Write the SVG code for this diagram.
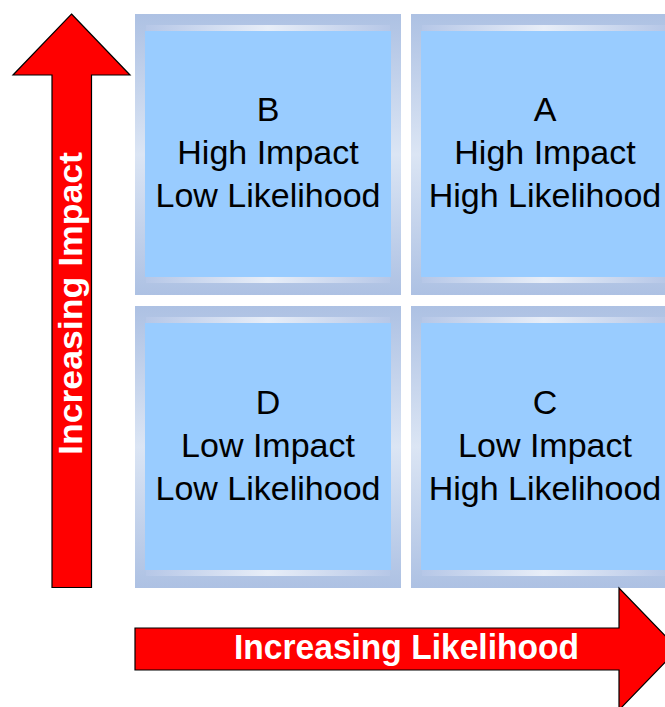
<svg xmlns="http://www.w3.org/2000/svg" width="665" height="707" viewBox="0 0 665 707">
<defs>
<linearGradient id="frameV" x1="0" y1="0" x2="0" y2="1">
<stop offset="0" stop-color="#adc1e3"/>
<stop offset="0.5" stop-color="#dbe5f4"/>
<stop offset="1" stop-color="#adc1e3"/>
</linearGradient>
<linearGradient id="bandH" x1="0" y1="0" x2="1" y2="0">
<stop offset="0" stop-color="#b6c7e7"/>
<stop offset="0.5" stop-color="#e8eef8"/>
<stop offset="1" stop-color="#b6c7e7"/>
</linearGradient>
</defs>
<style>
.outer{fill:url(#frameV)}
.band{fill:url(#bandH)}
.inner{fill:#99ccff}
.lbl{font-family:"Liberation Sans",Arial,sans-serif;font-size:34px;fill:#000;text-anchor:middle}
.arrow{fill:#ff0000;stroke:#000;stroke-width:1.2}
.atxt{font-family:"Liberation Sans",Arial,sans-serif;font-weight:bold;fill:#fff;text-anchor:middle}
</style>
<rect width="665" height="707" fill="#fff"/>
<g id="quadB">
<rect class="outer" x="135" y="14" width="266" height="281"/>
<rect class="band" x="146" y="25" width="244" height="6"/>
<rect class="band" x="146" y="277" width="244" height="6"/>
<rect class="inner" x="145" y="31" width="246" height="246"/>
<text class="lbl" x="268" y="121">B</text>
<text class="lbl" x="268" y="164">High Impact</text>
<text class="lbl" x="268" y="207">Low Likelihood</text>
</g>
<g id="quadA">
<rect class="outer" x="411" y="14" width="266" height="281"/>
<rect class="band" x="422" y="25" width="244" height="6"/>
<rect class="band" x="422" y="277" width="244" height="6"/>
<rect class="inner" x="421" y="31" width="246" height="246"/>
<text class="lbl" x="545" y="121">A</text>
<text class="lbl" x="545" y="164">High Impact</text>
<text class="lbl" x="545" y="207">High Likelihood</text>
</g>
<g id="quadD">
<rect class="outer" x="135" y="306" width="266" height="282"/>
<rect class="band" x="146" y="317" width="244" height="6"/>
<rect class="band" x="146" y="570" width="244" height="6"/>
<rect class="inner" x="145" y="323" width="246" height="247"/>
<text class="lbl" x="268" y="414">D</text>
<text class="lbl" x="268" y="457">Low Impact</text>
<text class="lbl" x="268" y="500">Low Likelihood</text>
</g>
<g id="quadC">
<rect class="outer" x="411" y="306" width="266" height="282"/>
<rect class="band" x="422" y="317" width="244" height="6"/>
<rect class="band" x="422" y="570" width="244" height="6"/>
<rect class="inner" x="421" y="323" width="246" height="247"/>
<text class="lbl" x="545" y="414">C</text>
<text class="lbl" x="545" y="457">Low Impact</text>
<text class="lbl" x="545" y="500">High Likelihood</text>
</g>
<g id="connectors">
<g id="impactArrow">
<path class="arrow" d="M71.5,14 L130,75 L91.5,75 L91.5,587.5 L52,587.5 L52,75 L13,75 Z"/>
<text class="atxt" font-size="34" transform="translate(82,303.5) rotate(-90)" x="0" y="0" textLength="303" lengthAdjust="spacingAndGlyphs">Increasing Impact</text>
</g>
<g id="likelihoodArrow">
<path class="arrow" d="M135,628 L619,628 L619,588 L678,649 L619,710 L619,670 L135,670 Z"/>
<text class="atxt" font-size="35" x="406.5" y="659" textLength="345" lengthAdjust="spacingAndGlyphs">Increasing Likelihood</text>
</g>
</g>
</svg>
